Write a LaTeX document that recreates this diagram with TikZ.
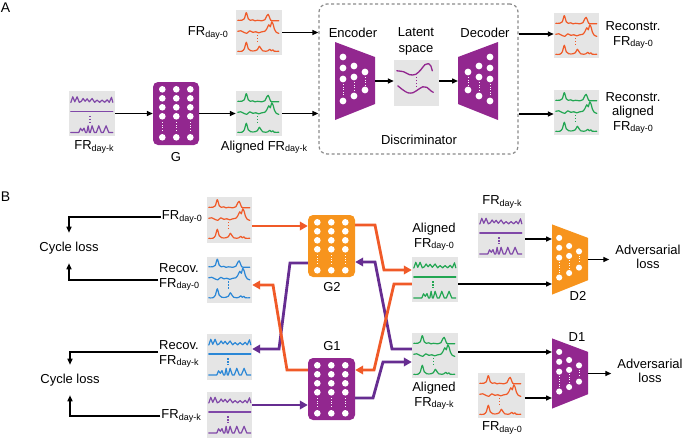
\documentclass[tikz,border=0pt]{standalone}
\usepackage{fontspec}
\setmainfont{Liberation Sans}
\usetikzlibrary{arrows.meta,calc}
\definecolor{orT}{HTML}{F05A28}
\definecolor{orF}{HTML}{F7941D}
\definecolor{puF}{HTML}{92278F}
\definecolor{puA}{HTML}{662D91}
\definecolor{puT}{HTML}{8048A8}
\definecolor{grT}{HTML}{22A652}
\definecolor{blT}{HTML}{2B87D6}
\definecolor{boxG}{HTML}{E5E5E5}
\definecolor{dashG}{HTML}{8A8A8A}
\newcommand{\sbx}[1]{\raisebox{-1.5pt}{\fontsize{9}{9}\selectfont #1}}
\tikzset{
  txt/.style={font=\fontsize{13}{14.5}\selectfont, inner sep=1pt, align=center},
  icon/.style={fill=boxG, draw=none, minimum width=46pt, minimum height=45pt, inner sep=0pt},
  gbox/.style={rounded corners=5pt, minimum width=46pt, minimum height=63pt, inner sep=0pt, draw=none},
  blk/.style={line width=1.4pt, -{Triangle[length=6pt,width=5pt]}},
  thk/.style={line width=2.8pt, -{Triangle[length=8pt,width=8.5pt]}},
  trc/.style={line width=1.2pt, line join=round, line cap=round},
  dotl/.style={line width=1.4pt, dash pattern=on 1.3pt off 1.7pt},
  traceA/.pic={
    \draw[trc,#1] plot[smooth,tension=0.4] coordinates {(2,10.5) (6,10.5) (8.5,9) (10.5,2.8) (12.5,9) (14.5,10.5) (17,10) (19,11) (22,10.5) (26,11) (29,10) (31,6) (32.3,4.5) (33.5,7) (35,10.5) (38,11) (43,11)};
    \draw[trc,#1] plot[smooth,tension=0.4] coordinates {(2,21.5) (5,21) (8,22.5) (11,23.5) (14,21) (17,22.5) (20,22) (23,23) (26,22) (29,21.5) (31,19) (33,15) (34.5,17) (36,12) (37.5,15) (38.5,19) (40.5,22.5) (43,23.5)};
    \draw[dotl,#1] (21.5,25) -- (21.5,33);
    \draw[trc,#1] plot[smooth,tension=0.4] coordinates {(2,41.5) (6,41.5) (8.5,39) (10.5,32.5) (12.5,39) (15,41) (19,41) (21.5,40) (23.5,36.5) (25,38.5) (27,41) (30,41.5) (32,41) (34,39.5) (35.5,41) (37,40) (38.5,41.5) (43,41.5)};
  },
  traceB/.pic={
    \draw[trc,#1] (2,11.7) -- (4,6) -- (6,11) -- (8.3,6) -- (10.5,11.5) -- (12.5,10.5) -- (14.3,7.7) -- (16.3,10.5) -- (18.3,8) -- (20.5,11) -- (23.3,7.7) -- (25.8,11.5) -- (28.3,9.3) -- (30.8,11.5) -- (33.3,9.3) -- (35.8,11.5) -- (38.3,9) -- (40.5,11.5) -- (42.7,6.5) -- (44,11.5);
    \draw[trc,#1] (2,20.7) -- (44,20.7);
    \draw[dotl,#1] (21,25) -- (21,32);
    \draw[trc,#1] (2,41.7) -- (10,41.7) -- (11.7,37.5) -- (13.5,40) -- (15.2,37.3) -- (16.7,41.7) -- (18,41.7) -- (19.3,35) -- (20.6,41.7) -- (21.5,41.7) -- (23.3,35) -- (25.5,41.7) -- (27.5,41.7) -- (30,35) -- (32.5,41.7) -- (34.5,41.7) -- (37.3,35) -- (40,41.7) -- (44,41.7);
  },
  latent/.pic={
    \draw[trc,puF,line width=1.3pt] plot[smooth,tension=0.5] coordinates {(3,11) (10,12) (16,15) (22,14.5) (27,10) (31,5) (35,4) (37,6) (38.5,11)};
    \draw[dotl,puF] (22.5,17) -- (22.5,27);
    \draw[trc,puF,line width=1.3pt] plot[smooth,tension=0.5] coordinates {(4,26) (9,30) (14,33) (19,33) (24,30) (29,27) (33,27.5) (37,31) (39.5,32.5)};
  },
  gdots/.pic={
    \foreach \cx in {9.5,23.5,37.5}{
      \foreach \cy in {7.5,16.5,25.5,34.5,55.5}{\fill[white] (\cx,\cy) circle[radius=3.3pt];}
      \draw[white,line width=1pt,dash pattern=on 1pt off 1.5pt] (\cx,40.5) -- (\cx,50.5);
    }
  },
  net/.pic={
    \fill[#1] (0,-39) -- (40,-24) -- (40,23) -- (0,39) -- cycle;
    \coordinate (-a) at (0,0);
    \coordinate (-b) at (40,0);
    \foreach \yy in {-24,-13,-2,20} {\fill[white] (8,\yy) circle[radius=3.4pt];}
    \foreach \yy in {-15,-4,15} {\fill[white] (19,\yy) circle[radius=3.4pt];}
    \foreach \yy in {-9,9} {\fill[white] (30,\yy) circle[radius=3.4pt];}
    \draw[white,line width=1pt,dash pattern=on 1pt off 1.5pt] (8,3) -- (8,15) (19,1) -- (19,10) (30,-4) -- (30,4);
  },
}
\begin{document}
\begin{tikzpicture}[x=1pt,y=-1pt]
\useasboundingbox (0,0) rectangle (683,437);
% ---------------- Panel A
\node[font=\fontsize{14}{14}\selectfont, inner sep=0pt] (lA) at (5.5,7.5) {A};
\node[icon] (a0) at (259,32.5) {};
\pic at (a0.north west) {traceA=orT};
\node[txt, anchor=east] (a0l) at (229,33) {FR\sbx{day-0}};
\node[icon] (ak) at (92,113.5) {};
\pic at (ak.north west) {traceB=puT};
\node[txt] (akl) at (94,147) {FR\sbx{day-k}};
\node[gbox, fill=puF] (G) at (176,113.5) {};
\pic at (G.north west) {gdots};
\node[txt] (Gl) at (176,157) {G};
\node[icon] (aal) at (259,113.5) {};
\pic at (aal.north west) {traceA=grT};
\node[txt] (aall) at (264,147) {Aligned FR\sbx{day-k}};
\node[draw=dashG, line width=1.2pt, dash pattern=on 3pt off 2.5pt, rounded corners=8pt,
      minimum width=199pt, minimum height=150pt, inner sep=0pt] (disc) at (418.5,79) {};
\pic (enc) at (335,81) {net=puF};
\node[icon, minimum width=45pt, minimum height=46pt] (lat) at (416.5,83) {};
\pic at (lat.north west) {latent};
\pic[xscale=-1] (dec) at (498,81) {net=puF};
\node[txt] (encl) at (353,33) {Encoder};
\node[txt, font=\fontsize{13}{16}\selectfont] (latl) at (416,41) {Latent\\space};
\node[txt] (decl) at (485,33) {Decoder};
\node[txt] (discl) at (419,140) {Discriminator};
\node[icon, minimum width=45pt] (r0) at (576.5,35.5) {};
\pic at (r0.north west) {traceA=orT};
\node[icon, minimum width=45pt] (ra) at (576.5,112.5) {};
\pic at (ra.north west) {traceA=grT};
\node[txt] (r0l) at (633,35) {Reconstr.\\FR\sbx{day-0}};
\node[txt] (ral) at (633,113) {Reconstr.\\aligned\\FR\sbx{day-0}};
\draw[blk] (a0.east) -- (a0.east -| disc.west);
\draw[blk] (ak.east) -- (G.west);
\draw[blk] (G.east) -- (aal.west);
\draw[blk] (aal.east) -- (aal.east -| disc.west);
\draw[blk] (enc-b) -- (enc-b -| lat.west);
\draw[blk] (lat.east |- dec-b) -- (dec-b);
\draw[blk] (disc.east |- 0,34) -- (r0.west |- 0,34);
\draw[blk] (disc.east |- 0,114) -- (ra.west |- 0,114);
% ---------------- Panel B
\node[font=\fontsize{14}{14}\selectfont, inner sep=0pt] (lB) at (5.5,197) {B};
\node[icon, minimum width=45pt, minimum height=46pt] (b0) at (229.5,220) {};
\pic at (b0.north west) {traceA=orT};
\node[icon, minimum width=45pt, minimum height=46pt] (rv0) at (229.5,279.5) {};
\pic at (rv0.north west) {traceA=blT};
\node[icon, minimum width=45pt, minimum height=46pt] (rvk) at (229.5,356.5) {};
\pic at (rvk.north west) {traceB=blT};
\node[icon, minimum width=45pt, minimum height=46pt] (bk) at (229.5,414.5) {};
\pic at (bk.north west) {traceB=puT};
\node[gbox, fill=orF, minimum width=47pt, minimum height=62pt] (G2) at (331.5,246) {};
\pic at (G2.north west) {gdots};
\node[gbox, fill=puF, minimum width=47pt, minimum height=62pt] (G1) at (331.5,389) {};
\pic at (G1.north west) {gdots};
\node[txt] (G2l) at (332,287) {G2};
\node[txt] (G1l) at (332,346) {G1};
\node[icon] (al0) at (435,279) {};
\pic at (al0.north west) {traceB=grT};
\node[icon] (alk) at (435,355.5) {};
\pic at (alk.north west) {traceA=grT};
\node[txt] (al0l) at (434,237) {Aligned\\FR\sbx{day-0}};
\node[txt] (alkl) at (434,396) {Aligned\\FR\sbx{day-k}};
\node[icon, minimum width=47pt] (dk) at (501.5,235) {};
\pic at (dk.north west) {traceB=puT};
\node[txt] (dkl) at (502,202) {FR\sbx{day-k}};
\node[icon, minimum width=47pt] (d0) at (501.5,395.5) {};
\pic at (d0.north west) {traceA=orT};
\node[txt] (d0l) at (502,428) {FR\sbx{day-0}};
\pic[scale=0.9] (D2) at (552,259.5) {net=orF};
\pic[scale=0.9] (D1) at (552,373.5) {net=puF};
\node[txt] (D2l) at (578,296) {D2};
\node[txt] (D1l) at (577,337) {D1};
\node[txt] (adv2) at (648,257) {Adversarial\\loss};
\node[txt] (adv1) at (650,371) {Adversarial\\loss};
\draw[blk] (dk.east |- 0,239) -- (D2-a |- 0,239);
\draw[blk] (al0.east |- 0,284) -- (D2-a |- 0,284);
\draw[blk] (alk.east |- 0,352) -- (D1-a |- 0,352);
\draw[blk] (d0.east |- 0,398) -- (D1-a |- 0,398);
\draw[blk, shorten >=5pt] (D2-b) -- (D2-b -| adv2.west);
\draw[blk, shorten >=5pt] (D1-b) -- (D1-b -| adv1.west);
% cycle loss
\node[txt, inner ysep=9pt] (cl1) at (69,248) {Cycle loss};
\node[txt, inner ysep=9pt] (cl2) at (70,380) {Cycle loss};
\node[txt, anchor=east] (b0l) at (203,217) {FR\sbx{day-0}};
\node[txt, anchor=west, align=left] (rv0l) at (158,277) {Recov.\\FR\sbx{day-0}};
\node[txt, anchor=west, align=left] (rvkl) at (158,354) {Recov.\\FR\sbx{day-k}};
\node[txt, anchor=east] (bkl) at (202,416) {FR\sbx{day-k}};
\draw[blk] (b0l.west) -| (cl1.north);
\draw[blk] (rv0l.west |- 0,280) -| (cl1.south);
\draw[blk] (rvkl.west |- 0,352) -| (cl2.north);
\draw[blk] (bkl.west) -| (cl2.south);
% thick generator connections
\draw[thk, puA] (alk.west |- 0,349) -- (392,349) -- (375,262) -- (G2.east |- 0,262);
\draw[thk, puA] (G1.east |- 0,398) -- (373,398) -- (383,362) -- (alk.west |- 0,362);
\draw[thk, puA] (G2.west |- 0,263) -- (290,263) -- (279,349) -- (rvk.east |- 0,349);
\draw[thk, puA] (bk.east |- 0,405) -- (G1.west |- 0,405);
\draw[thk, orT] (b0.east |- 0,226) -- (G2.west |- 0,226);
\draw[thk, orT] (G2.east |- 0,225) -- (375,225) -- (384,270) -- (al0.west |- 0,270);
\draw[thk, orT] (al0.west |- 0,284) -- (394,284) -- (374,370) -- (G1.east |- 0,370);
\draw[thk, orT] (G1.west |- 0,370) -- (287,370) -- (273,285) -- (rv0.east |- 0,285);
\end{tikzpicture}
\end{document}
